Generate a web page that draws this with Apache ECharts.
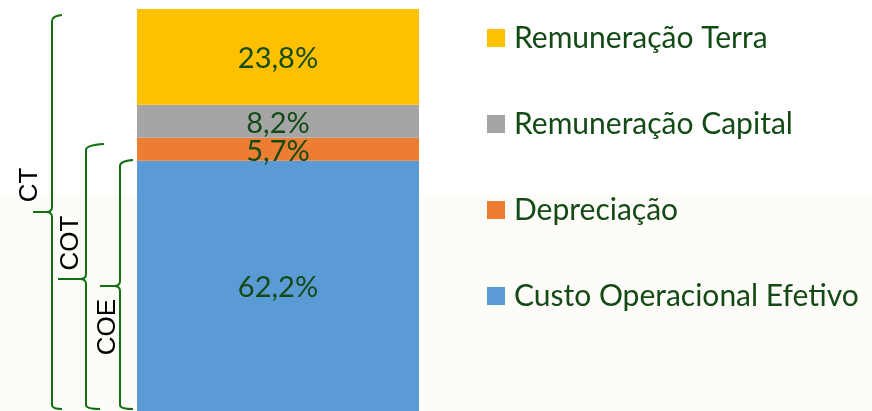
<!DOCTYPE html>
<html>
<head>
<meta charset="utf-8">
<script src="https://cdn.jsdelivr.net/npm/echarts@6/dist/echarts.min.js"></script>
<style>
  html, body { margin: 0; padding: 0; background: #ffffff; }
  #chart { width: 872px; height: 411px; }
</style>
</head>
<body>
<div id="chart"></div>
<script>
  // dados do gráfico (%)
  var categorias = [''];
  var custoOperacional = [62.2];
  var depreciacao = [5.7];
  var remCapital = [8.2];
  var remTerra = [23.8];
  var legenda = ['Remuneração Terra', 'Remuneração Capital', 'Depreciação', 'Custo Operacional Efetivo'];

  var verde = '#107010';
  var textoVerde = '#134a16';

  var chart = echarts.init(document.getElementById('chart'));

  function rotulo(p) {
    return p.value.toFixed(1).replace('.', ',') + '%';
  }

  function serie(nome, dados, cor) {
    return {
      name: nome,
      type: 'bar',
      stack: 'total',
      barWidth: '100%',
      data: dados,
      itemStyle: { color: cor },
      label: {
        show: true,
        position: 'inside',
        offset: [0, 2],
        formatter: rotulo,
        color: textoVerde,
        fontFamily: 'Lato',
        fontSize: 29
      }
    };
  }

  // chave (colchete) à esquerda, montada com linhas e curvas
  function chave(x, topo, meio, ponta, base, dirTopo, dirBase) {
    var st = { stroke: verde, lineWidth: 2, fill: null };
    return [
      { type: 'bezierCurve', shape: { x1: dirTopo, y1: topo - 1, cpx1: x, cpy1: topo, x2: x, y2: topo + 5 }, style: st },
      { type: 'line', shape: { x1: x, y1: topo + 5, x2: x, y2: meio - 5 }, style: st },
      { type: 'bezierCurve', shape: { x1: x, y1: meio - 5, cpx1: x, cpy1: meio, x2: x - 6, y2: meio }, style: st },
      { type: 'line', shape: { x1: x - 6, y1: meio, x2: ponta, y2: meio }, style: st },
      { type: 'bezierCurve', shape: { x1: x - 6, y1: meio, cpx1: x, cpy1: meio, x2: x, y2: meio + 5 }, style: st },
      { type: 'line', shape: { x1: x, y1: meio + 5, x2: x, y2: base - 4 }, style: st },
      { type: 'bezierCurve', shape: { x1: x, y1: base - 4, cpx1: x, cpy1: base, x2: dirBase, y2: base }, style: st }
    ];
  }

  function rotuloChave(txt, x, y) {
    return { type: 'text', x: x, y: y, rotation: Math.PI / 2,
      style: { text: txt, font: '26px "Liberation Sans"', fill: '#000000', align: 'center', verticalAlign: 'middle' } };
  }

  var graficos = [
    { type: 'rect', z: -10, shape: { x: 0, y: 194, width: 872, height: 217 }, style: { fill: '#fdfcf8' } }
  ].concat(
    chave(52, 16, 212, 33, 409, 62, 62),
    chave(86, 145, 279, 58, 409, 104, 100),
    chave(120, 161, 286, 100, 409, 133, 133),
    [rotuloChave('CT', 30, 185), rotuloChave('COT', 71, 243), rotuloChave('COE', 108, 327)]
  );

  chart.setOption({
    animation: false,
    backgroundColor: '#ffffff',
    grid: { left: 137, width: 282, top: 9, height: 408 },
    xAxis: { type: 'category', data: categorias, show: false },
    yAxis: { type: 'value', min: 0, max: 99.9, show: false },
    legend: {
      data: legenda,
      orient: 'vertical',
      left: 487,
      top: 23,
      padding: 0,
      itemWidth: 18,
      itemHeight: 18,
      itemGap: 56,
      icon: 'rect',
      textStyle: {
        color: textoVerde,
        fontFamily: 'Lato',
        fontSize: 30,
        lineHeight: 30,
        padding: [0, 0, 0, 4]
      }
    },
    graphic: graficos,
    series: [
      serie('Custo Operacional Efetivo', custoOperacional, '#5b9bd5'),
      serie('Depreciação', depreciacao, '#ed7d31'),
      serie('Remuneração Capital', remCapital, '#a5a5a5'),
      serie('Remuneração Terra', remTerra, '#ffc000')
    ]
  });
</script>
</body>
</html>
